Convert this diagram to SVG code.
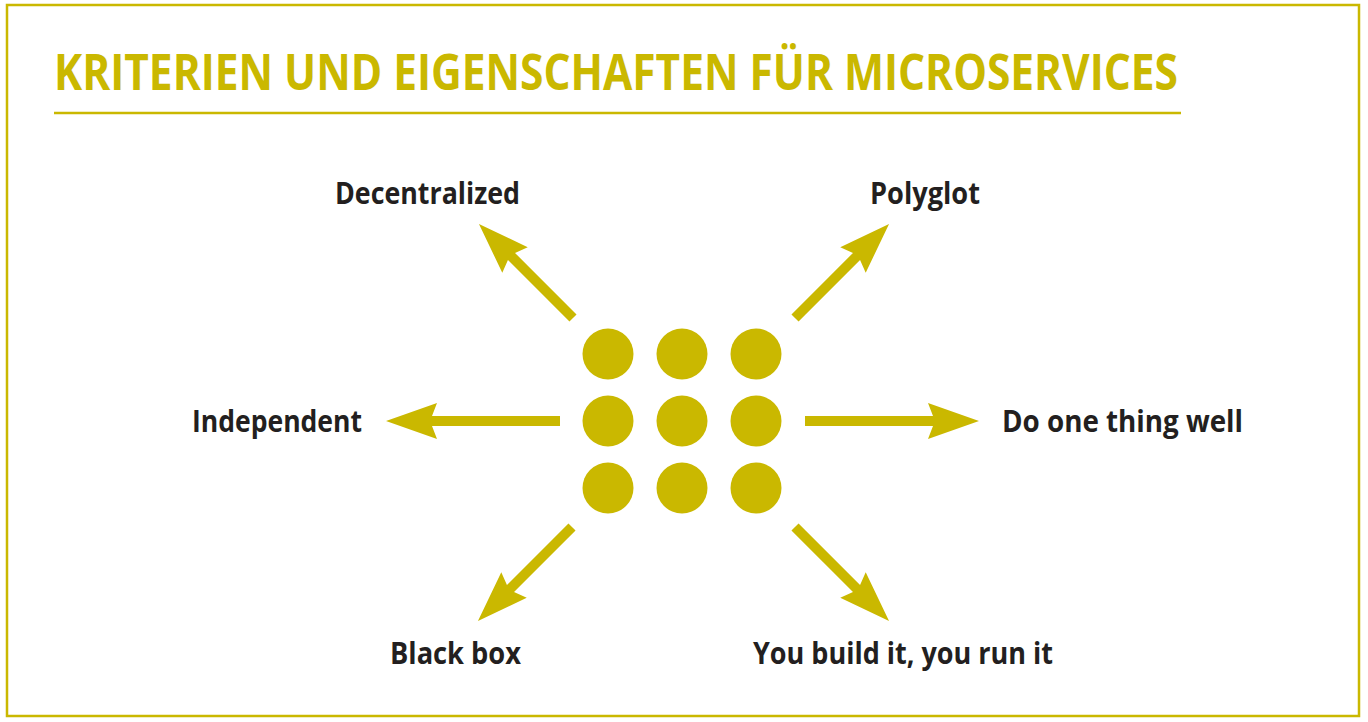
<svg xmlns="http://www.w3.org/2000/svg" xmlns:xlink="http://www.w3.org/1999/xlink" width="1368" height="722" viewBox="0 0 1368 722">
<style>
.frame{fill:none;stroke:#CAB800;stroke-width:2.5}
.rule{stroke:#CAB800;stroke-width:2.5}
.title{font-family:"Open Sans","Liberation Sans",sans-serif;font-weight:bold;font-size:51px;fill:#CAB800}
.lbl{font-family:"Open Sans","Liberation Sans",sans-serif;font-weight:bold;font-size:30px;fill:#231F20}
.dot{fill:#CAB800}
.arr{fill:#CAB800}
</style>
<defs>
<path id="arrLong" d="M0,-5 L128,-5 L123,-18 L174,0 L123,18 L128,5 L0,5 Z"/>
<path id="arrShort" d="M0,-5 L87,-5 L82,-18 L133,0 L82,18 L87,5 L0,5 Z"/>
</defs>
<rect class="frame" x="7" y="5" width="1352" height="711"/>
<text class="title" x="54" y="90" textLength="1124" lengthAdjust="spacingAndGlyphs">KRITERIEN UND EIGENSCHAFTEN FÜR MICROSERVICES</text>
<line class="rule" x1="54" y1="113" x2="1181" y2="113"/>
<g id="center">
<circle class="dot" cx="608" cy="354" r="25.5"/>
<circle class="dot" cx="682" cy="354" r="25.5"/>
<circle class="dot" cx="756" cy="354" r="25.5"/>
<circle class="dot" cx="608" cy="421" r="25.5"/>
<circle class="dot" cx="682" cy="421" r="25.5"/>
<circle class="dot" cx="756" cy="421" r="25.5"/>
<circle class="dot" cx="608" cy="488" r="25.5"/>
<circle class="dot" cx="682" cy="488" r="25.5"/>
<circle class="dot" cx="756" cy="488" r="25.5"/>
</g>
<g id="connectors" class="arr">
<use xlink:href="#arrLong" transform="translate(560,421) rotate(180)"/>
<use xlink:href="#arrLong" transform="translate(805,421)"/>
<use xlink:href="#arrShort" transform="translate(573,318) rotate(-135)"/>
<use xlink:href="#arrShort" transform="translate(795,318) rotate(-45)"/>
<use xlink:href="#arrShort" transform="translate(572,527) rotate(135)"/>
<use xlink:href="#arrShort" transform="translate(795,527) rotate(45)"/>
</g>
<g id="n-decentralized"><text class="lbl" x="335" y="204" textLength="185" lengthAdjust="spacingAndGlyphs">Decentralized</text></g>
<g id="n-polyglot"><text class="lbl" x="870" y="204" textLength="110" lengthAdjust="spacingAndGlyphs">Polyglot</text></g>
<g id="n-independent"><text class="lbl" x="192" y="432" textLength="170" lengthAdjust="spacingAndGlyphs">Independent</text></g>
<g id="n-doone"><text class="lbl" x="1002" y="432" textLength="241" lengthAdjust="spacingAndGlyphs">Do one thing well</text></g>
<g id="n-blackbox"><text class="lbl" x="390" y="664" textLength="131" lengthAdjust="spacingAndGlyphs">Black box</text></g>
<g id="n-youbuild"><text class="lbl" x="753" y="664" textLength="300" lengthAdjust="spacingAndGlyphs">You build it, you run it</text></g>
</svg>
